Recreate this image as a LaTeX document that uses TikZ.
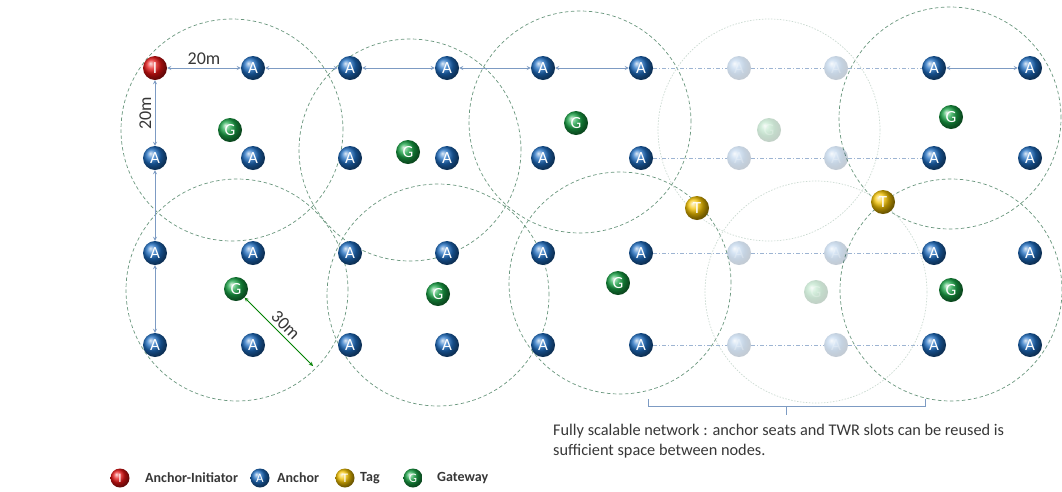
\documentclass[tikz,border=0pt]{standalone}
\usepackage{fontspec}
\setmainfont{Carlito}
\usetikzlibrary{shapes, arrows, positioning, calc}
\definecolor{linkblue}{RGB}{125,155,195}
\definecolor{zonegreen}{RGB}{105,150,125}
\definecolor{textgray}{RGB}{55,55,55}
\definecolor{anchorblue}{RGB}{30,110,195}
\definecolor{gatewaygreen}{RGB}{25,165,70}
\definecolor{tagyellow}{RGB}{245,195,0}
\definecolor{initred}{RGB}{230,20,20}

\tikzset{
  ball/.style={circle, minimum size=24pt, inner sep=0pt, text=white, font=\fontsize{17}{17}\selectfont},
  smallball/.style={minimum size=19pt, font=\fontsize{13}{13}\selectfont},
  anchorball/.style={ball, ball color=anchorblue},
  initball/.style={ball, ball color=initred},
  gateball/.style={ball, ball color=gatewaygreen},
  tagball/.style={ball, ball color=tagyellow},
  faded/.style={opacity=0.25},
  link/.style={<->, >=stealth, draw=linkblue, line width=0.8pt},
  reuse/.style={draw=linkblue!75, line width=0.7pt, dash pattern=on 4pt off 2pt on 1pt off 2pt},
  zone/.style={draw=zonegreen, line width=0.7pt, dash pattern=on 3.5pt off 2.5pt},
  ghostzone/.style={draw=zonegreen!35, line width=0.7pt, dash pattern=on 1.5pt off 1.5pt},
  dist/.style={text=textgray, font=\fontsize{18}{18}\selectfont},
  legendtext/.style={anchor=west, inner sep=0pt, text=textgray, font=\fontsize{14}{14}\selectfont\bfseries}
}

\begin{document}
\begin{tikzpicture}[x=1pt, y=-1pt]
\useasboundingbox (0,0) rectangle (1062,491);

% coverage zones
\foreach \cx/\cy in {232/130,410/150,580/122,950/118,237/290,438/295,620/283,951/290}
  \draw[zone] (\cx,\cy) circle[radius=111pt];
\foreach \cx/\cy in {769/130,816/292}
  \draw[ghostzone] (\cx,\cy) circle[radius=111pt];

% anchors
\node[initball] (i) at (155,68) {I};
\foreach \row/\y in {2/158,3/253,4/345}
  \node[anchorball] (a\row-1) at (155,\y) {A};
\foreach \col/\x in {2/253,3/350,4/447,5/543,6/641,9/934,10/1030}
  \foreach \row/\y in {1/68,2/158,3/253,4/345}
    \node[anchorball] (a\row-\col) at (\x,\y) {A};
\foreach \col/\x in {7/739,8/836}
  \foreach \row/\y in {1/68,2/158,3/253,4/345}
    \node[anchorball, faded] (a\row-\col) at (\x,\y) {A};

% gateways and tags
\foreach \n/\x/\y in {1/230/130,2/408/152,3/576/123,5/951/117,6/236/289,7/438/294,8/618/283,10/951/290}
  \node[gateball] (g\n) at (\x,\y) {G};
\node[gateball, faded] (g4) at (769,130) {G};
\node[gateball, faded] (g9) at (816,292) {G};
\node[tagball] (t1) at (697,208) {T};
\node[tagball] (t2) at (883,202) {T};

% ranging links
\draw[link] (i) -- node[midway, above, dist] {20m} (a1-2);
\draw[link] (i) -- node[midway, above, rotate=90, dist] {20m} (a2-1);
\foreach \a/\b in {2/3,3/4,4/5,5/6,9/10}
  \draw[link] (a1-\a) -- (a1-\b);
\foreach \a/\b in {2/3,3/4}
  \draw[link] (a\a-1) -- (a\b-1);
\foreach \row in {1,...,4}
  \draw[reuse] (a\row-6) -- (a\row-7) -- (a\row-8) -- (a\row-9);

% range
\coordinate (rim) at (313,366);
\draw[<->, >=stealth, draw=green!50!black, line width=0.8pt] (g6) -- node[midway, above, rotate=-45, dist] {30m} (rim);

% bracket and note
\draw[draw=linkblue, line width=0.7pt] (648,399) -- (648,406) -- (925,406) -- (925,399);
\draw[draw=linkblue, line width=0.7pt] (786.5,406) -- (786.5,415);
\node[anchor=north west, align=left, inner sep=0pt, text=textgray, font=\fontsize{16.3}{20}\selectfont] (note) at (553,424)
  {Fully scalable network : anchor seats and TWR slots can be reused is\\sufficient space between nodes.};

% legend
\node[initball, smallball] (li) at (120,478) {I};
\node[legendtext] (lit) at (145,478) {Anchor-Initiator};
\node[anchorball, smallball] (la) at (260,478) {A};
\node[legendtext] (lat) at (277,478) {Anchor};
\node[tagball, smallball] (lt) at (345,478) {T};
\node[legendtext] (ltt) at (360,478) {Tag};
\node[gateball, smallball] (lg) at (413,478) {G};
\node[legendtext] (lgt) at (437,478) {Gateway};
\end{tikzpicture}
\end{document}
